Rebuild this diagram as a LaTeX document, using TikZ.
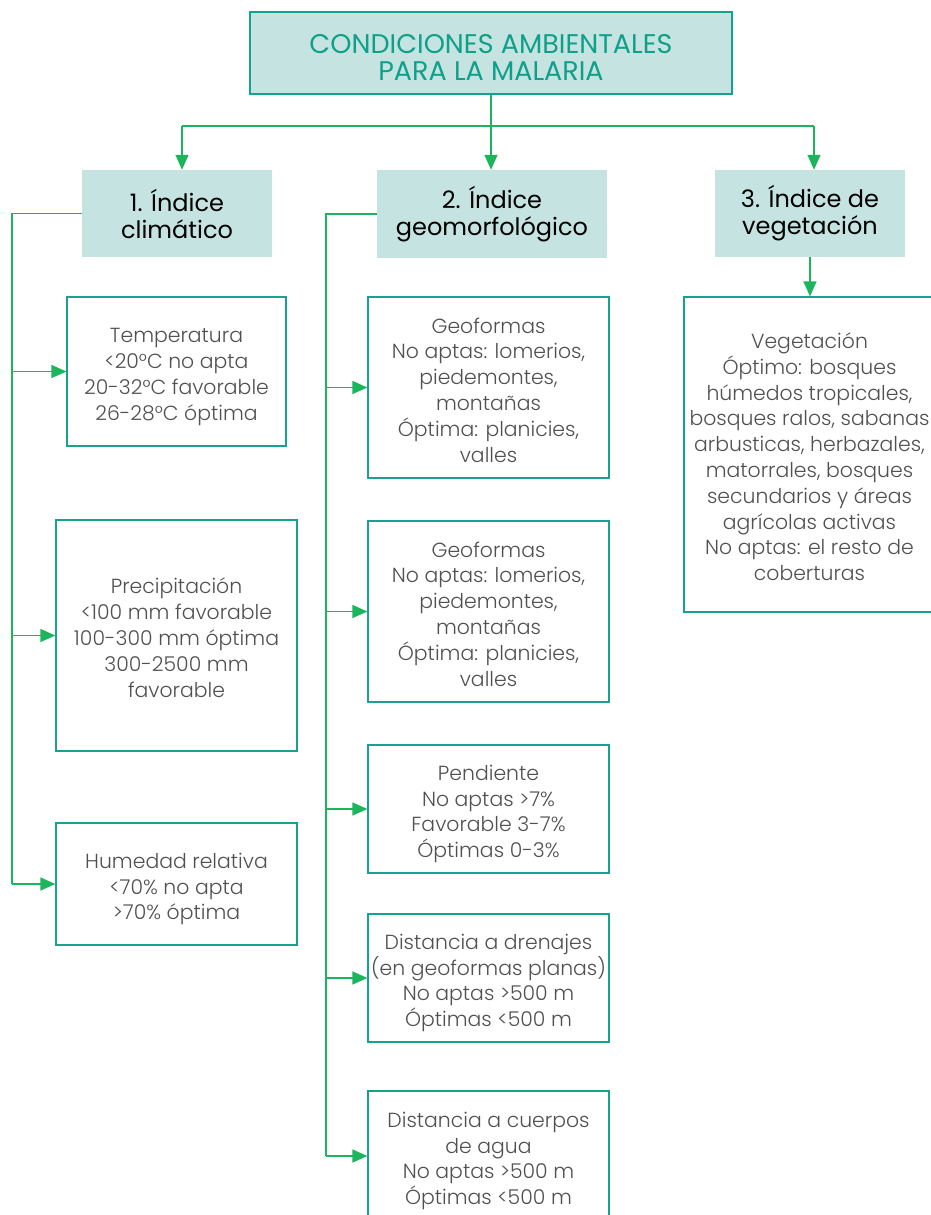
\documentclass[tikz,border=0pt]{standalone}
\usepackage{fontspec}
\setmainfont{Poppins}
\newfontfamily\lightfont{Poppins Light}
\newfontfamily\headfont{Poppins}
\usetikzlibrary{arrows.meta}
\definecolor{hdrfill}{HTML}{C5E3E1}
\definecolor{boxline}{HTML}{17A28E}
\definecolor{linegreen}{HTML}{1DB45E}
\definecolor{textgray}{HTML}{505050}
\definecolor{titleteal}{HTML}{0FA08A}
% struts that give every text block the same top and bottom room
\newcommand\boxtop{\rule{0pt}{26pt}}
\newcommand\boxbot{\rule[-6pt]{0pt}{6pt}}
\newcommand\titletop{\rule{0pt}{30pt}}
\newcommand\titlebot{\rule[-2pt]{0pt}{2pt}}
\tikzset{
  titlebox/.style={fill=hdrfill, draw=boxline, line width=1.2pt, align=center,
    font=\headfont\fontsize{27}{28}\selectfont, text=titleteal, inner sep=0pt},
  hdr/.style={fill=hdrfill, draw=none, align=center,
    font=\headfont\fontsize{24}{27}\selectfont, text=black, inner sep=0pt},
  infobox/.style={draw=boxline, line width=1.2pt, align=center,
    font=\lightfont\fontsize{20.4}{25.8}\selectfont, text=textgray, inner sep=0pt},
  conn/.style={draw=linegreen, line width=1.3pt},
  arr/.style={conn, -{Triangle[length=15pt,width=13pt]}}
}
\begin{document}
\begin{tikzpicture}[x=1pt,y=-1pt]
\useasboundingbox (0,0) rectangle (931,1215);
\clip (0,0) rectangle (931,1215);

% title
\node[titlebox, minimum width=482pt, minimum height=82pt] (title) at (491,53)
  {\titletop CONDICIONES AMBIENTALES\\PARA LA MALARIA\titlebot};

% index headers
\node[hdr, minimum width=190pt, minimum height=87pt] (h1) at (177,213.5) {1. Índice\\climático};
\node[hdr, minimum width=230pt, minimum height=88pt] (h2) at (492,214) {2. Índice\\geomorfológico};
\node[hdr, minimum width=190pt, minimum height=87pt] (h3) at (810,213.5) {3. Índice de\\vegetación};

% climatic factors
\node[infobox, minimum width=219pt, minimum height=149pt] (b1) at (176.5,371.5)
  {\boxtop Temperatura\\<20°C no apta\\20-32°C favorable\\26-28°C óptima\boxbot};
\node[infobox, minimum width=241pt, minimum height=231pt] (b2) at (176.5,635.5)
  {\boxtop Precipitación\\<100 mm favorable\\100-300 mm óptima\\300-2500 mm\\favorable\boxbot};
\node[infobox, minimum width=241pt, minimum height=122pt] (b3) at (176.5,884)
  {\boxtop Humedad relativa\\<70\% no apta\\>70\% óptima\boxbot};

% geomorphological factors
\node[infobox, minimum width=241pt, minimum height=181pt] (c1) at (488.5,387.5)
  {\boxtop Geoformas\\No aptas: lomerios,\\piedemontes,\\montañas\\Óptima: planicies,\\valles\boxbot};
\node[infobox, minimum width=241pt, minimum height=181pt] (c2) at (488.5,611.5)
  {\boxtop Geoformas\\No aptas: lomerios,\\piedemontes,\\montañas\\Óptima: planicies,\\valles\boxbot};
\node[infobox, minimum width=241pt, minimum height=128pt] (c3) at (488.5,809)
  {\boxtop Pendiente\\No aptas >7\%\\Favorable 3-7\%\\Óptimas 0-3\%\boxbot};
\node[infobox, minimum width=241pt, minimum height=128pt] (c4) at (488.5,978)
  {\boxtop Distancia a drenajes\\(en geoformas planas)\\No aptas >500 m\\Óptimas <500 m\boxbot};
\node[infobox, minimum width=241pt, minimum height=130pt] (c5) at (488.5,1156)
  {\boxtop Distancia a cuerpos\\de agua\\No aptas >500 m\\Óptimas <500 m\boxbot};

% vegetation
\node[infobox, minimum width=251pt, minimum height=315pt] (v1) at (809.5,454.5)
  {\boxtop Vegetación\\Óptimo: bosques\\húmedos tropicales,\\bosques ralos, sabanas\\arbusticas, herbazales,\\matorrales, bosques\\secundarios y áreas\\agrícolas activas\\No aptas: el resto de\\coberturas\boxbot};

% branching from the title
\coordinate (bl) at (182,126);
\coordinate (br) at (814,126);
\draw[conn] (bl) -- (br);
\draw[arr] (title.south) -- (title.south |- h2.north);
\draw[arr] (bl) -- (bl |- h1.north);
\draw[arr] (br) -- (br |- h3.north);

% climatic spine
\coordinate (s1) at (12,0);
\draw[conn] (h1.west) -| (s1 |- b3.west);
\draw[arr] (s1 |- b1.west) -- (b1.west);
\draw[arr] (s1 |- b2.west) -- (b2.west);
\draw[arr] (s1 |- b3.west) -- (b3.west);

% geomorphological spine
\coordinate (s2) at (326,0);
\draw[conn] (h2.west) -| (s2 |- c5.west);
\draw[arr] (s2 |- c1.west) -- (c1.west);
\draw[arr] (s2 |- c2.west) -- (c2.west);
\draw[arr] (s2 |- c3.west) -- (c3.west);
\draw[arr] (s2 |- c4.west) -- (c4.west);
\draw[arr] (s2 |- c5.west) -- (c5.west);

% vegetation link
\draw[arr] (h3.south) -- (h3.south |- v1.north);
\end{tikzpicture}
\end{document}
